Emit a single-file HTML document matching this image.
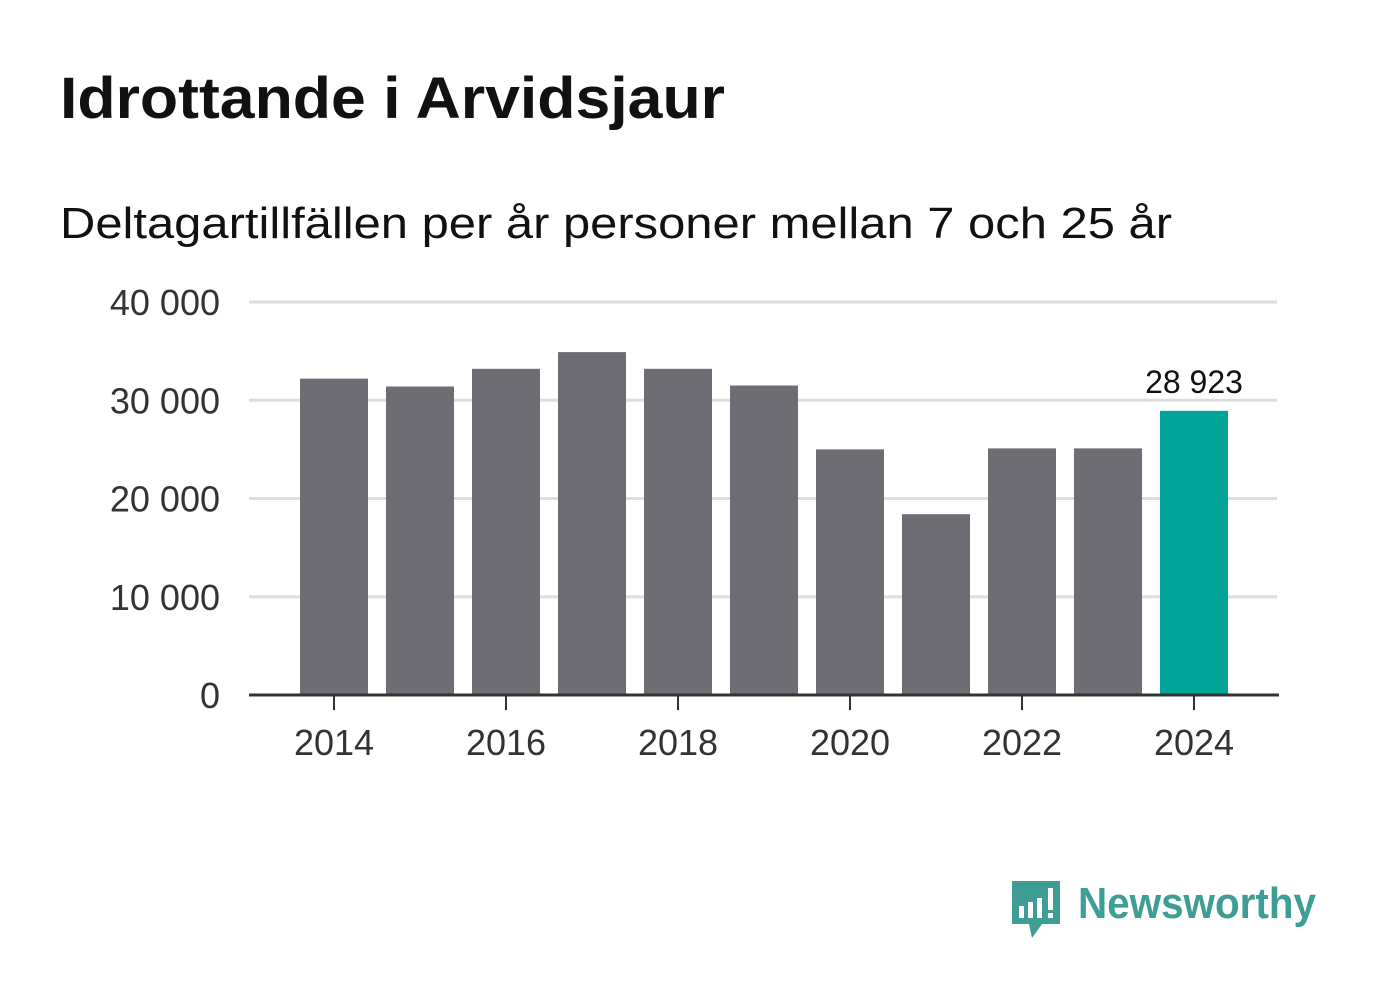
<!DOCTYPE html>
<html><head><meta charset="utf-8"><style>
body{margin:0;background:#fff;width:1382px;height:999px;overflow:hidden;font-family:"Liberation Sans","DejaVu Sans",sans-serif}
</style></head><body>
<svg width="1382" height="999" xmlns="http://www.w3.org/2000/svg">
<text x="60" y="118" font-size="58" font-weight="bold" fill="#111" textLength="665" lengthAdjust="spacingAndGlyphs">Idrottande i Arvidsjaur</text>
<text x="60" y="238" font-size="44" fill="#111" textLength="1112" lengthAdjust="spacingAndGlyphs">Deltagartillfällen per år personer mellan 7 och 25 år</text>
<g id="grid"></g><g id="bars"></g><g id="axes"></g>
<g>
<path d="M1012 881 h48 v43 h-18 l-10 14 l-3 -14 h-17 z" fill="#3e9e96"/>
<rect x="1019" y="906" width="5" height="12" fill="#fff"/><rect x="1028" y="902" width="5" height="16" fill="#fff"/><rect x="1037" y="898" width="5" height="20" fill="#fff"/><rect x="1048" y="888" width="5" height="22" fill="#fff"/><rect x="1048" y="913" width="5" height="5" fill="#fff"/>
<text x="1078" y="918" font-size="44" font-weight="bold" fill="#3e9e96" textLength="238" lengthAdjust="spacingAndGlyphs">Newsworthy</text>
</g>
</svg>
<script>
const years=[2014,2015,2016,2017,2018,2019,2020,2021,2022,2023,2024];
const values=[32200,31400,33200,34900,33200,31500,25000,18400,25100,25100,28923];
const yTicks=[0,10000,20000,30000,40000];
const yTickLabels=["0","10 000","20 000","30 000","40 000"];
const xTicks=[2014,2016,2018,2020,2022,2024];
const NS="http://www.w3.org/2000/svg";
const y=v=>695-v*(393/40000);
const x=yr=>334+(yr-2014)*86;
function mk(t,a,p){const e=document.createElementNS(NS,t);for(const k in a)e.setAttribute(k,a[k]);p.appendChild(e);return e;}
const g=document.getElementById('grid'),b=document.getElementById('bars'),ax=document.getElementById('axes');
yTicks.forEach((v,i)=>{
 if(v>0){const l=mk('line',{x1:249,x2:1277,y1:y(v),y2:y(v),stroke:'#ddd','stroke-width':3},g);
 
 }
 const t=mk('text',{x:220,y:y(v)+13,'font-size':36,fill:'#333','text-anchor':'end'},ax);t.textContent=yTickLabels[i];
 
 
});
years.forEach((yr,i)=>{
 const last=i===years.length-1;
 const r=mk('rect',{x:x(yr)-34,y:y(values[i]),width:68,height:695-y(values[i]),fill:last?'#00a398':'#6e6d73'},b);
 
 
 if(last){const t=mk('text',{x:x(yr),y:y(values[i])-18,'font-size':32,fill:'#111','text-anchor':'middle'},b);
 t.textContent=values[i].toLocaleString('en').replace(/,/g,' ');
 
 }
});
const base=mk('line',{x1:249,x2:1279,y1:695,y2:695,stroke:'#333','stroke-width':3},ax);


xTicks.forEach(yr=>{
 const tk=mk('line',{x1:x(yr),x2:x(yr),y1:695,y2:710,stroke:'#333','stroke-width':2},ax);
 
 
 const t=mk('text',{x:x(yr),y:755,'font-size':36,fill:'#333','text-anchor':'middle'},ax);t.textContent=yr;
 
 
});
</script>
</body></html>
